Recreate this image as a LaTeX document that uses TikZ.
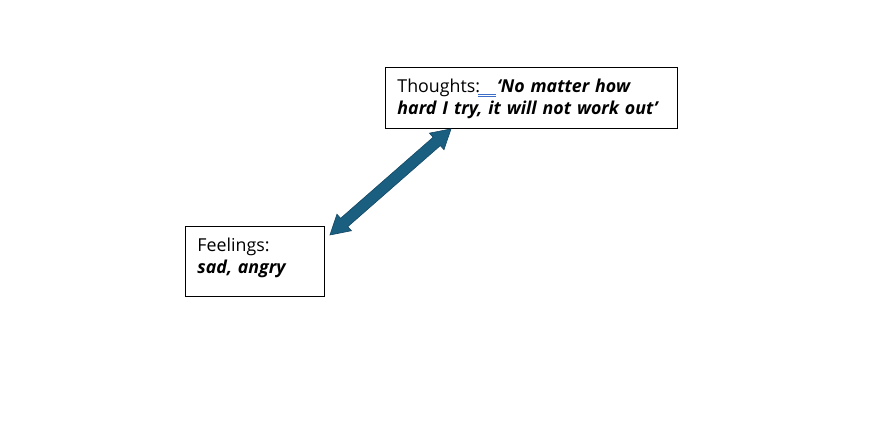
\documentclass[tikz,border=0pt]{standalone}
\usepackage{fontspec}
\setmainfont{Open Sans}
\usetikzlibrary{calc}
\definecolor{arrowfill}{RGB}{26,94,128}
\definecolor{arrowedge}{RGB}{20,72,100}
\definecolor{markblue}{RGB}{60,110,200}
\tikzset{
  textbox/.style={draw=black, line width=0.9pt, anchor=north west, align=left,
    inner xsep=12pt, inner ysep=0pt, font=\fontsize{17.8}{22}\selectfont},
}
\begin{document}
\begin{tikzpicture}[x=1pt,y=-1pt]
\useasboundingbox (0,0) rectangle (890,420);
\node[textbox, text width=268pt] (thoughts) at (385,67)
  {\rule{0pt}{25pt}Thoughts:\hspace{0.95em}\textbf{\textit{‘No matter how}}\\\textbf{\textit{hard I try, it will not work out’}}\rule[-14pt]{0pt}{0pt}};
\node[textbox, text width=115pt] (feelings) at (185,226)
  {\rule{0pt}{25pt}Feelings:\\\textbf{\textit{sad, angry}}\rule[-23pt]{0pt}{0pt}};
% spell-check marks under ": "
\draw[markblue, line width=0.6pt] ($(thoughts.north west)+(93,27)$) -- ++(18,0);
\draw[markblue, line width=0.6pt] ($(thoughts.north west)+(93,29.5)$) -- ++(18,0);
% double arrow
\coordinate (tA) at ($(feelings.north east)+(5,9)$);
\coordinate (tB) at ($(thoughts.south west)+(66,0)$);
\coordinate (hA) at ($(tA)!19pt!(tB)$);
\coordinate (hB) at ($(tB)!19pt!(tA)$);
\filldraw[fill=arrowfill, draw=arrowedge, line width=0.6pt, line join=miter]
  (tA) -- ($(hA)!11pt!90:(tB)$) -- ($(hA)!5.5pt!90:(tB)$)
  -- ($(hB)!5.5pt!-90:(tA)$) -- ($(hB)!11pt!-90:(tA)$)
  -- (tB) -- ($(hB)!11pt!90:(tA)$) -- ($(hB)!5.5pt!90:(tA)$)
  -- ($(hA)!5.5pt!-90:(tB)$) -- ($(hA)!11pt!-90:(tB)$) -- cycle;
\end{tikzpicture}
\end{document}
